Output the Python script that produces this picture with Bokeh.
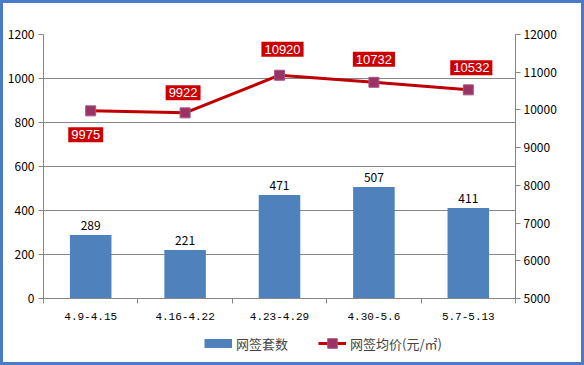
from bokeh.plotting import figure
from bokeh.layouts import column
from bokeh.models import (Range1d, LinearAxis, FixedTicker, Legend, LegendItem,
                          ColumnDataSource)
from bokeh.core.properties import value
from bokeh.embed import file_html
from bokeh.resources import INLINE

categories = ["4.9-4.15", "4.16-4.22", "4.23-4.29", "4.30-5.6", "5.7-5.13"]
deals = [289, 221, 471, 507, 411]
prices = [9975, 9922, 10920, 10732, 10532]
left_ticks = [0, 200, 400, 600, 800, 1000, 1200]
right_ticks = [5000, 6000, 7000, 8000, 9000, 10000, 11000, 12000]

# layout helpers (not data)
xpos = [i + 0.5 for i in range(len(categories))]
bounds = list(range(len(categories) + 1))
lab_dx = [-5, -2, 3, 0, 3]
lab_dy = [24, -20, -26, -23, -22]
NAN = [float("nan")]

CJK = "Noto Sans CJK SC"
GRAY = "#868686"
BLUE = "#4F81BD"
LINE_RED = "#C00000"
MARK = "#993366"

p = figure(width=578, height=325, x_range=Range1d(0, 5), y_range=Range1d(0, 1200),
           output_backend="svg", toolbar_location=None,
           min_border_left=40, min_border_right=66, min_border_top=31, min_border_bottom=30)
p.outline_line_color = None
p.background_fill_color = "white"
p.border_fill_color = "white"
p.xgrid.visible = False
p.ygrid.grid_line_color = GRAY
p.ygrid.grid_line_width = 1

# x axis
xa = p.xaxis[0]
xa.ticker = FixedTicker(ticks=xpos, minor_ticks=bounds)
xa.major_label_overrides = {x: c for x, c in zip(xpos, categories)}
xa.major_tick_out = 0
xa.major_tick_in = 0
xa.minor_tick_out = 5
xa.minor_tick_in = 0
xa.minor_tick_line_color = GRAY
xa.axis_line_color = GRAY
xa.major_label_standoff = 9
xa.major_label_text_font = "Liberation Mono"
xa.major_label_text_font_size = "11px"
xa.major_label_text_color = "black"

# left axis
ya = p.yaxis[0]
ya.ticker = FixedTicker(ticks=left_ticks)
ya.major_tick_out = 5
ya.major_tick_in = 0
ya.minor_tick_out = 0
ya.minor_tick_in = 0
ya.major_tick_line_color = GRAY
ya.axis_line_color = GRAY
ya.major_label_standoff = 4
ya.major_label_text_font = CJK
ya.major_label_text_font_size = "12px"
ya.major_label_text_color = "black"

# right axis
p.extra_y_ranges = {"price": Range1d(5000, 12000)}
ra = LinearAxis(y_range_name="price", ticker=FixedTicker(ticks=right_ticks))
ra.major_tick_out = 5
ra.major_tick_in = 0
ra.minor_tick_out = 0
ra.minor_tick_in = 0
ra.major_tick_line_color = GRAY
ra.axis_line_color = GRAY
ra.major_label_standoff = 3
ra.major_label_text_font = CJK
ra.major_label_text_font_size = "12px"
ra.major_label_text_color = "black"
p.add_layout(ra, "right")

src = ColumnDataSource(dict(x=xpos, deals=deals, prices=prices,
                            dl=[str(v) for v in deals], pl=[str(v) for v in prices],
                            dx=lab_dx, dy=lab_dy))

p.vbar(x="x", top="deals", width=0.44, source=src, fill_color=BLUE, line_color=None)
p.text(x="x", y="deals", text="dl", source=src, text_align="center",
       text_baseline="bottom", y_offset=-5, text_font=value(CJK),
       text_font_size="12px", text_color="black")

p.line(x="x", y="prices", source=src, y_range_name="price",
       line_color=LINE_RED, line_width=3)
p.scatter(x="x", y="prices", source=src, y_range_name="price",
          marker="square", size=10, fill_color=MARK, line_color="#A85580")

p.text(x="x", y="prices", text="pl", source=src, y_range_name="price",
       x_offset="dx", y_offset="dy", text_align="center",
       text_baseline="middle", text_color="white",
       text_font=value("Liberation Sans"), text_font_size="13px",
       background_fill_color="#CC0000", padding=3)

# legend strip below the chart (swatches only, they draw nothing)
q = figure(width=578, height=34, x_range=Range1d(0, 1), y_range=Range1d(0, 1),
           output_backend="svg", toolbar_location=None,
           min_border=0, min_border_left=0, min_border_right=0,
           min_border_top=0, min_border_bottom=0)
q.axis.visible = False
q.grid.visible = False
q.outline_line_color = None
q.border_fill_color = "white"
sw_bar = q.line(x=NAN, y=NAN, line_color=BLUE, line_width=9, line_cap="butt")
sw_line = q.line(x=NAN, y=NAN, line_color=LINE_RED, line_width=3)
sw_mark = q.scatter(x=NAN, y=NAN, marker="square", size=10, fill_color=MARK,
                    line_color="#A85580")

leg = Legend(items=[LegendItem(label="网签套数", renderers=[sw_bar]),
                    LegendItem(label="网签均价(元/㎡)", renderers=[sw_line, sw_mark])],
             location=(161, 7), orientation="horizontal",
             glyph_width=28, glyph_height=24, label_height=24, label_standoff=4,
             spacing=30, padding=0, margin=0, border_line_color=None,
             background_fill_alpha=0,
             label_text_font=CJK, label_text_font_size="13px")
q.add_layout(leg)

layout = column(p, q, spacing=0, styles={"border": "3px solid #4A7BC9"})

html = file_html(layout, INLINE)
html = html.replace("<body>", '<body style="margin:0">', 1)
open("out.html", "w").write(html)
